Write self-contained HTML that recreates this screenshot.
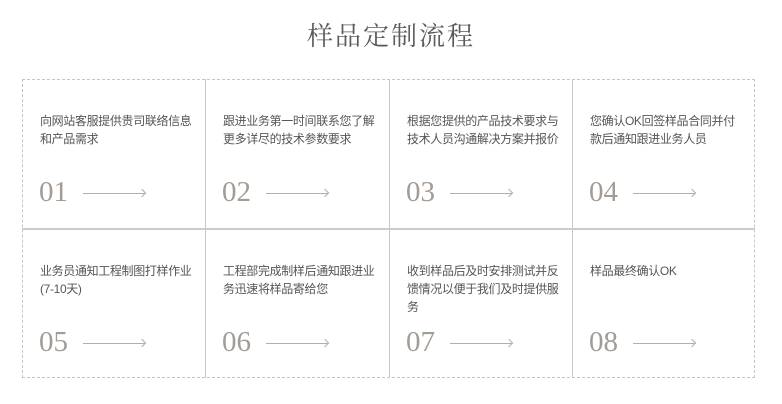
<!DOCTYPE html>
<html><head><meta charset="utf-8"><style>
body{margin:0;width:782px;height:404px;background:#fff;position:relative;overflow:hidden;font-family:"Liberation Sans","Noto Sans CJK SC",sans-serif}
.t{position:absolute;top:16px;left:0;width:782px;text-align:center;font-family:"Liberation Serif","Noto Serif CJK SC",serif;font-size:26px;color:#5a5a5a;letter-spacing:2px}
.grid{position:absolute;left:22px;top:79px;width:733px;height:299px;border:1px dashed #c9c5c1;box-sizing:border-box}
.c{position:absolute;width:183px;height:150px;box-sizing:border-box}
.tx{position:absolute;left:18px;top:33px;width:158px;font-size:12px;letter-spacing:-0.35px;line-height:18px;color:#555}
.n{position:absolute;left:17px;top:97px;font-family:"Liberation Serif",serif;font-size:29px;color:#a49c94}
.a{position:absolute;left:61px;top:114px;width:62px;height:1px;background:#b5aea8}
.a:after{content:"";position:absolute;right:0;top:-3px;width:5px;height:5px;border-top:1px solid #b5aea8;border-right:1px solid #b5aea8;transform:rotate(45deg);transform-origin:center}
.v{position:absolute;width:1px;background:#c9c5c1;top:79px;height:299px}
.h{position:absolute;left:22px;width:733px;top:228px;height:2px;background:#cfcbc7}
</style></head><body>
<div class="t">样品定制流程</div>
<div class="grid"></div>
<div class="v" style="left:205px"></div>
<div class="v" style="left:389px"></div>
<div class="v" style="left:572px"></div>
<div class="h"></div>

<div class="c" style="left:22px;top:79px"><div class="tx">向网站客服提供贵司联络信息和产品需求</div><div class="n">01</div><div class="a"></div></div>
<div class="c" style="left:205px;top:79px"><div class="tx">跟进业务第一时间联系您了解更多详尽的技术参数要求</div><div class="n">02</div><div class="a"></div></div>
<div class="c" style="left:389px;top:79px"><div class="tx">根据您提供的产品技术要求与技术人员沟通解决方案并报价</div><div class="n">03</div><div class="a"></div></div>
<div class="c" style="left:572px;top:79px"><div class="tx">您确认OK回签样品合同并付<br>款后通知跟进业务人员</div><div class="n">04</div><div class="a"></div></div>

<div class="c" style="left:22px;top:229px"><div class="tx">业务员通知工程制图打样作业<br>(7-10天)</div><div class="n">05</div><div class="a"></div></div>
<div class="c" style="left:205px;top:229px"><div class="tx">工程部完成制样后通知跟进业务迅速将样品寄给您</div><div class="n">06</div><div class="a"></div></div>
<div class="c" style="left:389px;top:229px"><div class="tx">收到样品后及时安排测试并反馈情况以便于我们及时提供服务</div><div class="n">07</div><div class="a"></div></div>
<div class="c" style="left:572px;top:229px"><div class="tx">样品最终确认OK</div><div class="n">08</div><div class="a"></div></div>
</body></html>
